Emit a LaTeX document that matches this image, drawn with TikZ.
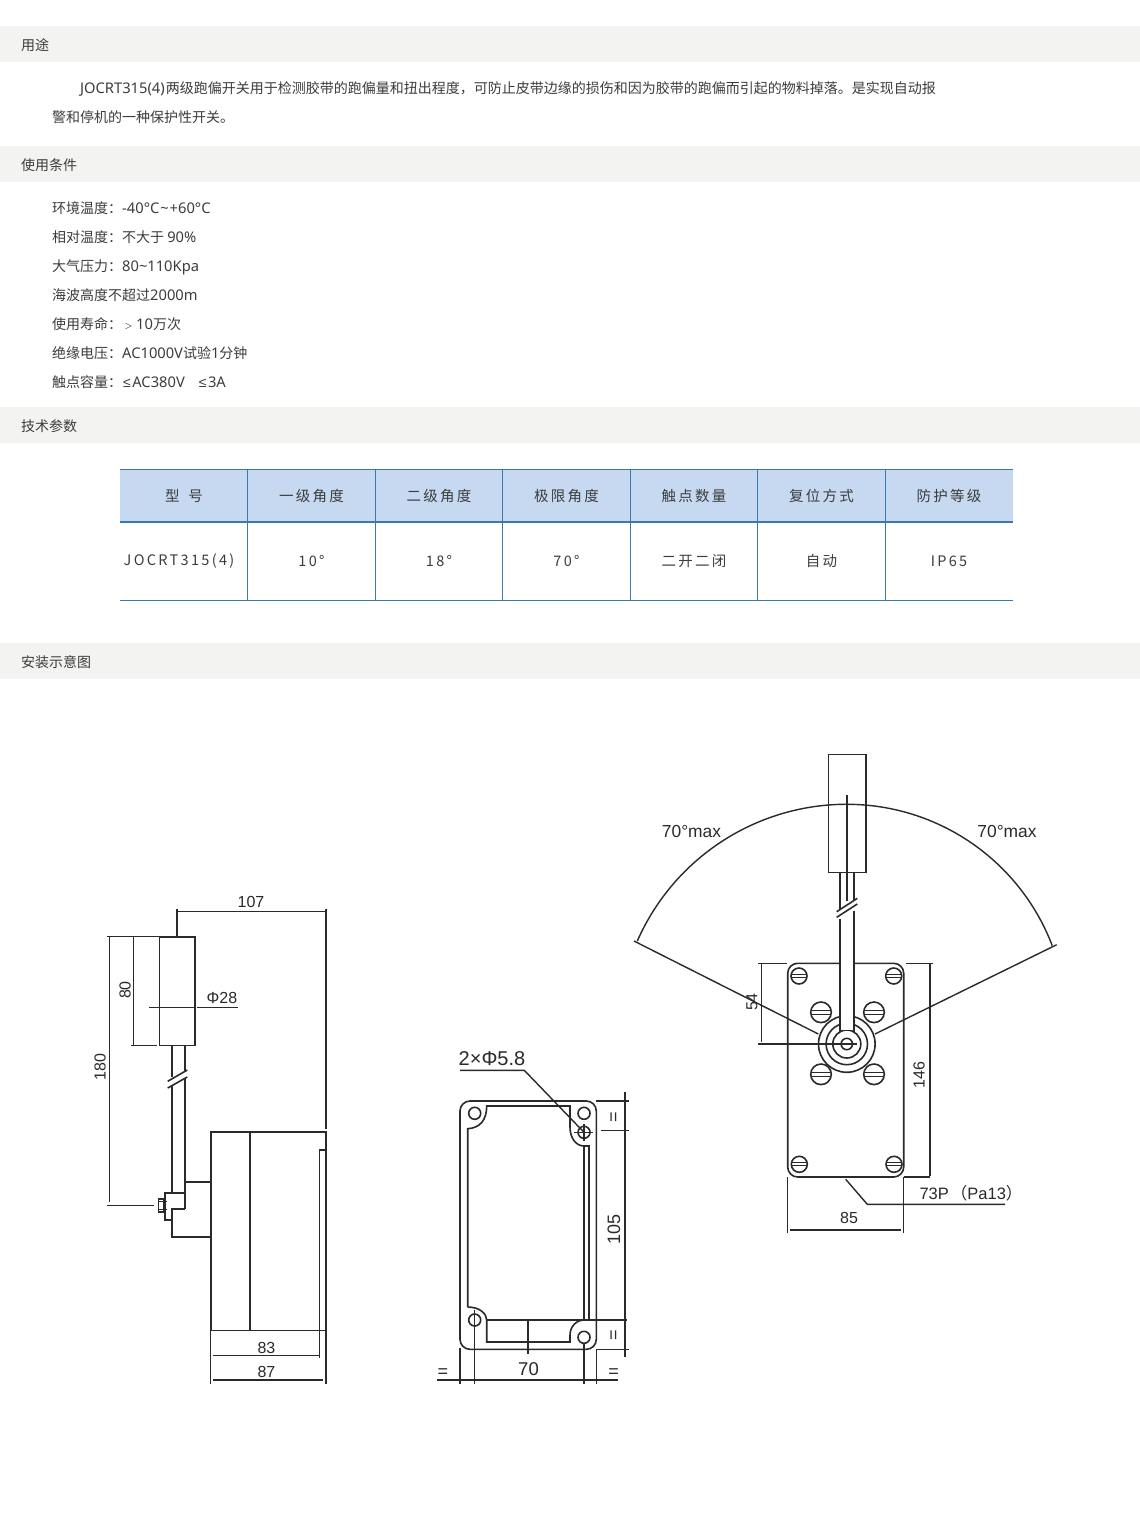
\documentclass[tikz,border=0pt]{standalone}
\usepackage{fontspec}
\setmainfont{Noto Sans CJK SC}
\newfontfamily\cjk{Noto Sans CJK SC}
\newfontfamily\lat[Scale=1.05]{Noto Sans}
\newfontfamily\tablefont[LetterSpace=16]{Noto Sans CJK SC}
\newfontfamily\dimfont{Liberation Sans}
\definecolor{bandgray}{HTML}{F3F3F1}
\definecolor{headblue}{HTML}{C6D9F1}
\definecolor{ruleblue}{HTML}{3A78B0}
\definecolor{inkgray}{HTML}{2A2A2A}
\definecolor{txtgray}{HTML}{3C3C3C}
\tikzset{
  bandtext/.style={anchor=west,inner sep=0pt,text height=12pt,text depth=2pt,text=txtgray,font=\fontsize{14}{14}\selectfont},
  bodytext/.style={anchor=west,inner sep=0pt,text height=12pt,text depth=2pt,text=txtgray,font=\fontsize{14}{14}\selectfont},
  celltext/.style={inner sep=0pt,text height=12pt,text depth=2pt,text=txtgray,font=\tablefont\fontsize{14.5}{15}\selectfont},
  tablerule/.style={color=ruleblue,line width=1.6pt},
  part/.style={draw=inkgray,line width=1.6pt},
  dimline/.style={draw=inkgray,line width=1.4pt},
  dimtext/.style={inner sep=0pt,text=inkgray,font=\dimfont\fontsize{16}{16}\selectfont},
}
\begin{document}
\begin{tikzpicture}[x=1pt,y=-1pt]
\useasboundingbox (0,0) rectangle (1140,1521);
\fill[white] (0,0) rectangle (1140,1521);

% section bands
\fill[color=bandgray] (0,26) rectangle (1140,62);
\fill[color=bandgray] (0,146) rectangle (1140,182);
\fill[color=bandgray] (0,407) rectangle (1140,443);
\fill[color=bandgray] (0,643) rectangle (1140,679);

\node[bandtext] (useTitle) at (21,45) {用途};
\node[bandtext] (condTitle) at (21,165) {使用条件};
\node[bandtext] (paramTitle) at (21,426) {技术参数};
\node[bandtext] (mountTitle) at (21,662) {安装示意图};

\node[bodytext] (useA) at (80,88) {{\lat JOCRT315(4)}\hspace{1pt}两级跑偏开关用于检测胶带的跑偏量和扭出程度，可防止皮带边缘的损伤和因为胶带的跑偏而引起的物料掉落。是实现自动报};
\node[bodytext] (useB) at (52,117) {警和停机的一种保护性开关。};

\node[bodytext] (condA) at (52,208) {环境温度：{\lat -40°C\hspace{1pt}\textasciitilde\hspace{1pt}+60°C}};
\node[bodytext] (condB) at (52,237) {相对温度：不大于 {\lat 90\%}};
\node[bodytext] (condC) at (52,266) {大气压力：{\lat 80\textasciitilde 110Kpa}};
\node[bodytext] (condD) at (52,295) {海波高度不超过{\lat 2000m}};
\node[bodytext] (condE) at (52,324) {使用寿命：\hspace{2.5pt}{\fontsize{8}{8}\selectfont ＞}\hspace{3.5pt}{\lat 10}万次};
\node[bodytext] (condF) at (52,353) {绝缘电压：{\lat AC1000V}试验{\lat 1}分钟};
\node[bodytext] (condG) at (52,382) {触点容量：{\dimfont\hspace{1pt}≤\hspace{1.5pt}}{\lat AC380V}\hspace{14pt}{\dimfont ≤\hspace{1.5pt}}{\lat 3A}};

% table
\fill[color=headblue] (119.5,469.5) rectangle (1013,522);
\draw[tablerule] (119.5,469.5) -- (1013,469.5);
\draw[tablerule] (119.5,522) -- (1013,522);
\draw[tablerule] (119.5,600.5) -- (1013,600.5);
\foreach \cx in {247.5,375.5,502.5,630.5,757.5,885.5}
  \draw[tablerule] (\cx,469.5) -- (\cx,600.5);

\node[celltext] (headA) at (184,496) {型\hspace{9pt}号};
\node[celltext] (headB) at (311.5,496) {一级角度};
\node[celltext] (headC) at (439,496) {二级角度};
\node[celltext] (headD) at (566.5,496) {极限角度};
\node[celltext] (headE) at (694,496) {触点数量};
\node[celltext] (headF) at (821.5,496) {复位方式};
\node[celltext] (headG) at (949,496) {防护等级};
\node[celltext] (cellA) at (179,560) {JOCRT315(4)};
\node[celltext] (cellB) at (311.5,561) {10°};
\node[celltext] (cellC) at (439,561) {18°};
\node[celltext] (cellD) at (566.5,561) {70°};
\node[celltext] (cellE) at (694,561) {二开二闭};
\node[celltext] (cellF) at (821.5,561) {自动};
\node[celltext] (cellG) at (949,561) {IP65};

% side view
\draw[part] (159.3,936.7) rectangle (195,1045.3);
\draw[part] (171.7,1045.3) -- (171.7,1077);
\draw[part] (184.7,1045.3) -- (184.7,1071);
\draw[part] (167.7,1081.3) -- (187.3,1070);
\draw[part] (167.7,1088) -- (187.3,1077);
\draw[part] (171.7,1085) -- (171.7,1192.7);
\draw[part] (184.7,1079) -- (184.7,1208.7);
\draw[part] (210.7,1131.7) rectangle (326,1330.3);
\draw[part] (250,1131.7) -- (250,1330.3);
\draw[part] (326,1150) -- (319.3,1150) -- (319.3,1358);
\draw[part] (184.7,1182) -- (210.7,1182);
\draw[part] (184.7,1192.7) -- (164.7,1192.7) -- (164.7,1220) -- (171.7,1220);
\draw[part] (184.7,1208.7) -- (171.7,1208.7) -- (171.7,1236.7) -- (210.7,1236.7);
\draw[part] (158.3,1199) rectangle (163.3,1211.7);
\draw[part,line width=1pt] (158.3,1201.5) -- (167,1201.5);
\draw[part,line width=1pt] (158.3,1209) -- (167,1209);

\draw[dimline] (177,908.5) -- (177,936.7);
\draw[dimline] (177,911.3) -- (326,911.3);
\draw[dimline] (326,908.5) -- (326,1129);
\draw[dimline] (106.7,936.7) -- (159.3,936.7);
\draw[dimline] (109.7,936.7) -- (109.7,1201.7);
\draw[dimline] (106.7,1205.3) -- (154,1205.3);
\draw[dimline] (133.7,936.7) -- (133.7,1045.3);
\draw[dimline] (131,1045.3) -- (157,1045.3);
\draw[dimline] (149,1007.7) -- (195,1007.7);
\draw[dimline] (197,1007.7) -- (237.5,1007.7);
\draw[dimline] (210.7,1330.3) -- (210.7,1384);
\draw[dimline] (326,1330.3) -- (326,1384);
\draw[dimline] (213,1355.3) -- (319,1355.3);
\draw[dimline] (213,1380) -- (323,1380);

\node[dimtext] (dimTop) at (251,902) {107};
\node[dimtext,rotate=90] (dimHead) at (125,990) {80};
\node[dimtext,rotate=90] (dimAll) at (100,1067) {180};
\node[dimtext] (dimDia) at (222,998) {Φ28};
\node[dimtext] (dimIn) at (266.5,1347.5) {83};
\node[dimtext] (dimOut) at (266.5,1371.5) {87};

% base view
\draw[part] (470,1101) -- (586.3,1101) arc[start angle=-90,end angle=0,radius=10] -- (596.3,1339.3)
  arc[start angle=0,end angle=90,radius=10] -- (470,1349.3)
  arc[start angle=90,end angle=180,radius=10] -- (460,1111)
  arc[start angle=180,end angle=270,radius=10] -- cycle;
\draw[part] (467.7,1307) .. controls (480,1307) and (486.7,1314) .. (486.7,1320)
  -- (486.7,1342) -- (570,1342) -- (570,1335) .. controls (570,1327) and (576,1320) .. (584,1320);
\draw[part] (467.7,1307) -- (467.7,1128.7) .. controls (480,1128) and (486.7,1120) .. (486.7,1106)
  -- (570,1106) -- (570,1127) .. controls (570,1138) and (576,1146) .. (584,1146) -- (589,1146) -- (589,1320);
\draw[part] (584,1146) -- (584,1320);
\draw[part] (474.7,1113.3) circle (6);
\draw[part] (584,1113.3) circle (6);
\draw[part] (584,1132.3) circle (6);
\draw[part] (474.7,1320) circle (6);
\draw[part] (584,1337.3) circle (6);

\draw[dimline] (574,1132.3) -- (592.7,1132.3);
\draw[dimline] (584,1124) -- (584,1141);
\draw[dimline] (460,1070.3) -- (524.3,1070.3) -- (584,1132.3);
\draw[dimline] (625,1092.3) -- (625,1357.3);
\draw[dimline] (596.3,1101) -- (629.3,1101);
\draw[dimline] (600.7,1130.7) -- (629.3,1130.7);
\draw[dimline] (486.7,1320) -- (627,1320);
\draw[dimline] (596.3,1349.3) -- (629.3,1349.3);
\draw[dimline] (436.7,1380) -- (618,1380);
\draw[dimline] (460,1348) -- (460,1384);
\draw[dimline] (474.7,1310) -- (474.7,1384);
\draw[dimline] (584,1343) -- (584,1384);
\draw[dimline] (596.3,1349.3) -- (596.3,1384);
\draw[dimline] (528,1320) -- (528,1354);

\node[dimtext,font=\dimfont\fontsize{20}{20}\selectfont] (dimHole) at (492,1059) {2×Φ5.8};
\node[dimtext,font=\dimfont\fontsize{18.5}{19}\selectfont] (dimWide) at (528.5,1369) {70};
\node[dimtext,rotate=90,font=\dimfont\fontsize{18}{18}\selectfont] (dimHigh) at (614,1229) {105};
\node[dimtext,rotate=90,font=\dimfont\fontsize{18}{18}\selectfont] (eqTop) at (615,1117) {=};
\node[dimtext,rotate=90,font=\dimfont\fontsize{18}{18}\selectfont] (eqBot) at (615,1335) {=};
\node[dimtext,font=\dimfont\fontsize{18}{18}\selectfont] (eqLeft) at (443,1373) {=};
\node[dimtext,font=\dimfont\fontsize{18}{18}\selectfont] (eqRight) at (613.5,1373) {=};

% front view
\draw[part] (797.7,963.3) -- (893.7,963.3) arc[start angle=-90,end angle=0,radius=10] -- (903.7,1167)
  arc[start angle=0,end angle=90,radius=10] -- (797.7,1177)
  arc[start angle=90,end angle=180,radius=10] -- (787.7,973.3)
  arc[start angle=180,end angle=270,radius=10] -- cycle;

\foreach \sx/\sy in {799/976,893.7/976,799.3/1164.3,894/1164.3} {
  \draw[part,fill=white] (\sx,\sy) circle (8);
  \draw[part,line width=1pt] (\sx-7.7,\sy-1.6) -- (\sx+7.7,\sy-1.6);
  \draw[part,line width=1pt] (\sx-7.7,\sy+1.6) -- (\sx+7.7,\sy+1.6);
}
\foreach \sx/\sy in {821/1012.3,874/1012.3,821/1074.3,874/1074.3} {
  \draw[part,fill=white] (\sx,\sy) circle (10.3);
  \draw[part,line width=1pt] (\sx-10,\sy-1.8) -- (\sx+10,\sy-1.8);
  \draw[part,line width=1pt] (\sx-10,\sy+1.8) -- (\sx+10,\sy+1.8);
}
\draw[part,fill=white] (846.8,1044) circle (28.3);
\draw[part] (846.8,1044) circle (20.7);
\draw[part] (846.8,1044) circle (14);
\draw[part] (846.8,1044) circle (5.7);
\fill[white] (840,960) rectangle (854,1030);

\draw[part] (828.3,754.3) rectangle (865.7,872.3);
\draw[part] (840,872.3) -- (840,909);
\draw[part] (854,872.3) -- (854,901);
\draw[part] (840,919) -- (840,1032);
\draw[part] (854,911) -- (854,1032);
\draw[part] (836.7,911.7) -- (857.3,898.3);
\draw[part] (836.7,917.3) -- (857.3,904);

\draw[dimline] (847,795) -- (847,901);
\draw[dimline] (637.3,941) arc[start angle=203.76,end angle=270,radius=229];
\draw[dimline] (847,804.3) arc[start angle=270,end angle=339.1,radius=219.7];
\draw[dimline] (634,941) -- (818.3,1034);
\draw[dimline] (875,1034) -- (1056.7,944.7);

\draw[dimline] (761.7,963.3) -- (761.7,1041.7);
\draw[dimline] (758.3,963.3) -- (786.7,963.3);
\draw[dimline] (758.3,1044) -- (856.7,1044);
\draw[dimline] (930,963.3) -- (930,1176);
\draw[dimline] (906,963.3) -- (933,963.3);
\draw[dimline] (903.7,1177) -- (930,1177);
\draw[dimline] (787.7,1177) -- (787.7,1233);
\draw[dimline] (903.7,1177) -- (903.7,1233);
\draw[dimline] (790,1230) -- (901,1230);
\draw[dimline] (845.7,1179.3) -- (867.3,1204.3) -- (1005,1204.3);

\node[dimtext,font=\dimfont\fontsize{17.4}{18}\selectfont] (maxLeft) at (691.5,831) {70°max};
\node[dimtext,font=\dimfont\fontsize{17.4}{18}\selectfont] (maxRight) at (1007,831) {70°max};
\node[dimtext,rotate=90] (dimHalf) at (752,1002) {54};
\node[dimtext,rotate=90] (dimPlate) at (919,1075) {146};
\node[dimtext] (dimBase) at (849,1218) {85};
\node[dimtext,font=\dimfont\fontsize{16.5}{17}\selectfont] (dimGland) at (971,1193) {73P\hspace{2pt}{\cjk（}Pa13{\cjk）}};
\end{tikzpicture}
\end{document}
